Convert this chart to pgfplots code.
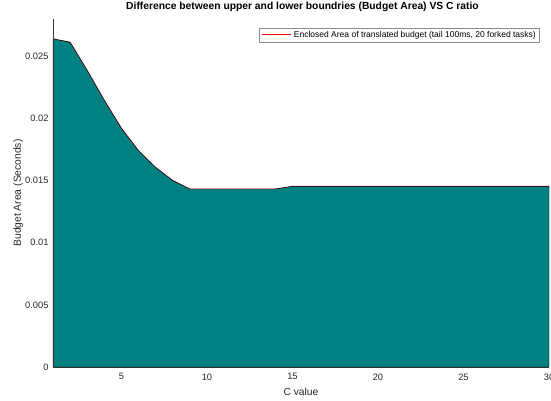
\documentclass[border=0pt]{standalone}
\usepackage{pgfplots}
\pgfplotsset{compat=1.18}
\usepackage{fontspec}
\setmainfont{Liberation Sans}
\definecolor{areafill}{RGB}{0,128,128}
\definecolor{txt}{RGB}{38,38,38}

\begin{document}
\begin{tikzpicture}[x=1pt,y=1pt]
\path[use as bounding box] (-53,-33) rectangle (498,367);
\begin{axis}[
  at={(0,0)}, anchor=south west,
  scale only axis, width=496pt, height=348pt,
  xmin=1, xmax=30, ymin=0, ymax=0.028,
  xtick={5,10,...,30},
  ytick={0,0.005,0.01,0.015,0.02,0.025},
  yticklabels={0,0.005,0.01,0.015,0.02,0.025},
  scaled y ticks=false,
  axis lines*=left,
  axis line style={draw=black!80, line width=0.5pt, -},
  major tick length=0pt,
  tick label style={font=\fontsize{9.3}{11}\selectfont, text=txt},
  /pgf/number format/assume math mode=true,
  xticklabel style={yshift=-3pt},
  yticklabel style={xshift=-1pt},
  xlabel={C value},
  ylabel={Budget Area (Seconds)},
  label style={font=\fontsize{10.3}{12}\selectfont, text=txt},
  xlabel style={at={(axis description cs:0.5,0)}, anchor=base, yshift=-28pt},
  ylabel style={at={(axis description cs:0,0.5)}, anchor=base, rotate=0, yshift=32pt},
  title={Difference between upper and lower boundries (Budget Area) VS C ratio},
  title style={font=\bfseries\fontsize{10.3}{12}\selectfont, at={(axis description cs:0.503,1)}, anchor=base, yshift=4pt},
  legend style={at={(0.980,0.974)}, anchor=north east, draw=black!45, line width=0.5pt,
    font=\fontsize{8.5}{10}\selectfont, inner sep=1pt, row sep=0pt,
    legend cell align=left},
  legend image code/.code={},
  axis on top,
  clip=false,
]
% Outline series (the one shown in the legend)
\addplot[draw=red, line width=0.9pt] coordinates {
  (1,0.02640) (2,0.02613) (3,0.02385) (4,0.02145) (5,0.01920)
  (6,0.01740) (7,0.01605) (8,0.01500) (9,0.01432) (10,0.01432)
  (11,0.01432) (12,0.01432) (13,0.01432) (14,0.01432) (15,0.01453)
  (16,0.01453) (17,0.01453) (18,0.01453) (19,0.01453) (20,0.01453)
  (21,0.01453) (22,0.01453) (23,0.01453) (24,0.01453) (25,0.01453)
  (26,0.01453) (27,0.01453) (28,0.01453) (29,0.01453) (30,0.01453)
};
\addlegendentry{\textcolor{red}{\rule[0.3em]{29pt}{0.6pt}}\hspace{3pt}Enclosed Area of translated budget (tail 100ms, 20 forked tasks)}
% Enclosed area filled down to zero
\addplot[fill=areafill, draw=black, line width=0.4pt, forget plot] coordinates {
  (1,0.02640) (2,0.02613) (3,0.02385) (4,0.02145) (5,0.01920)
  (6,0.01740) (7,0.01605) (8,0.01500) (9,0.01432) (10,0.01432)
  (11,0.01432) (12,0.01432) (13,0.01432) (14,0.01432) (15,0.01453)
  (16,0.01453) (17,0.01453) (18,0.01453) (19,0.01453) (20,0.01453)
  (21,0.01453) (22,0.01453) (23,0.01453) (24,0.01453) (25,0.01453)
  (26,0.01453) (27,0.01453) (28,0.01453) (29,0.01453) (30,0.01453)
} \closedcycle;
\end{axis}
\end{tikzpicture}
\end{document}
